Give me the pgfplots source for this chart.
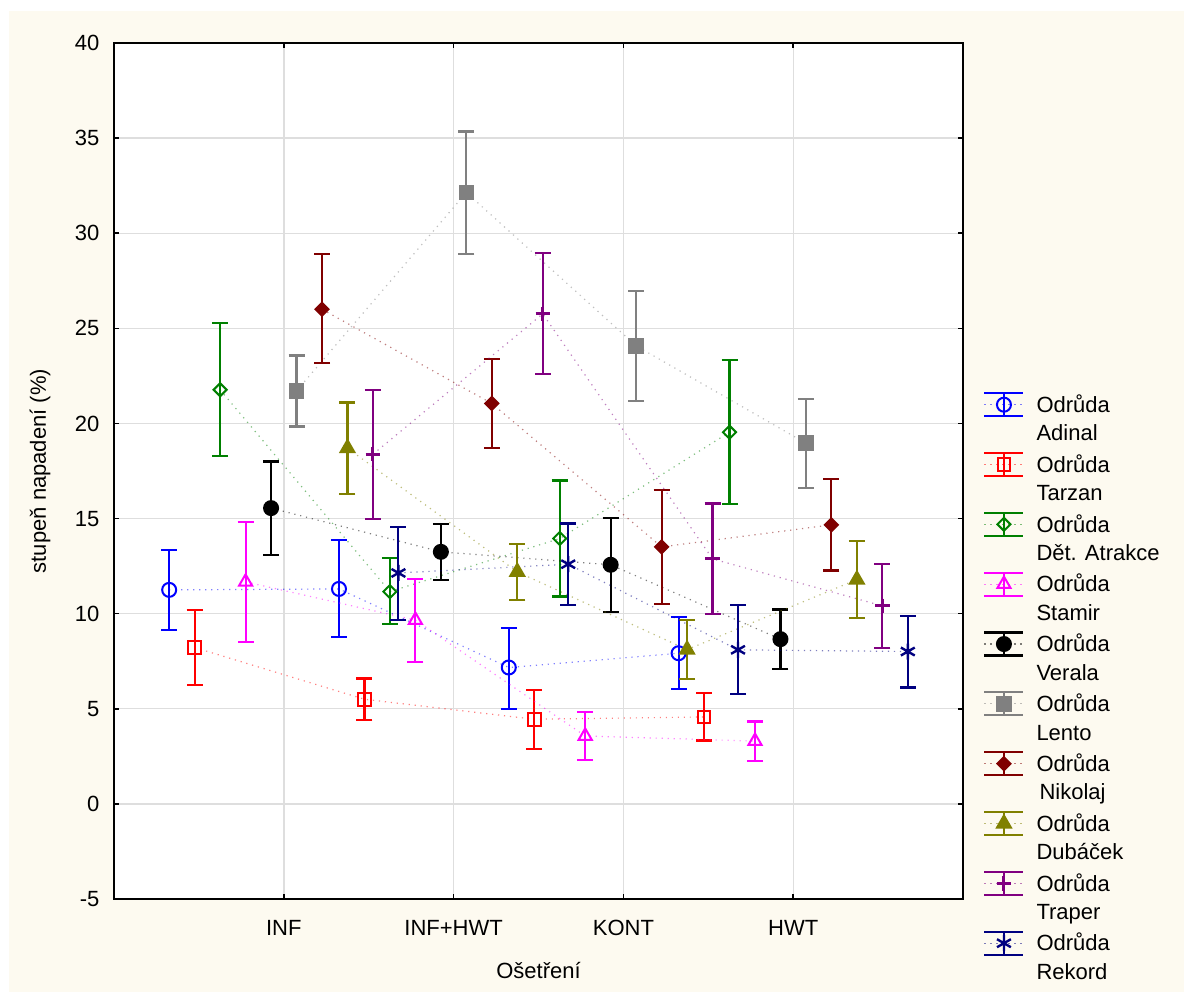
\documentclass[border=0pt]{standalone}
\usepackage{pgfplots}
\pgfplotsset{compat=1.18}
\usepackage{fontspec}
\setmainfont{Liberation Sans}

\definecolor{cream}{RGB}{253,250,240}
\definecolor{gridgray}{RGB}{222,222,222}
\definecolor{vblue}{RGB}{0,0,255}
\definecolor{vred}{RGB}{255,0,0}
\definecolor{vgreen}{RGB}{0,128,0}
\definecolor{vmagenta}{RGB}{255,0,255}
\definecolor{vgray}{RGB}{128,128,128}
\definecolor{vdarkred}{RGB}{128,0,0}
\definecolor{volive}{RGB}{128,128,0}
\definecolor{vpurple}{RGB}{128,0,128}
\definecolor{vnavy}{RGB}{0,0,128}

\pgfplotsset{
  odr/.style n args={3}{color=#1, mark=#2, line width=0.6pt,
    dash pattern=on 0.6pt off 2.4pt, draw opacity=0.5,
    mark options={solid, draw opacity=1, line width=1pt, #3},
    error bars/.cd, y dir=both, y explicit,
    error bar style={solid, line width=1.05pt, draw opacity=1, color=#1},
    error mark options={rotate=90, mark size=4pt, line width=1.05pt, solid, draw opacity=1, color=#1}},
}

\begin{document}
\begin{tikzpicture}
\useasboundingbox (0,0) rectangle (592pt,496pt);
\fill[white] (0,0) rectangle (592pt,496pt);
\fill[cream] (4.5pt,0) rectangle (592pt,490.5pt);
\begin{axis}[
  at={(57pt,46.5pt)}, anchor=south west,
  scale only axis, width=424.5pt, height=428pt,
  xmin=0, xmax=5, ymin=-5, ymax=40,
  xtick={1,2,3,4}, xticklabels={INF,INF+HWT,KONT,HWT},
  ytick={-5,0,...,40},
  grid=major, grid style={gridgray, line width=0.7pt},
  axis line style={line width=1pt},
  tick style={black, line width=0.8pt},
  major tick length=2.5pt,
  axis background/.style={fill=white},
  /pgf/number format/assume math mode=true,
  tick label style={font=\fontsize{11}{13}\selectfont},
  xticklabel style={anchor=center, yshift=-14.5pt},
  yticklabel style={xshift=-3.8pt},
  label style={font=\fontsize{11}{13}\selectfont},
  xlabel={Ošetření},
  xlabel style={at={(axis description cs:0.5,-0.083)}, anchor=center},
  ylabel={stupeň napadení (\%)},
  ylabel style={at={(axis description cs:-0.087,0.5)}, anchor=center, rotate=0},
  legend cell align=left,
  legend style={draw=none, fill=none, inner sep=0pt, at={(1,0.5915)}, anchor=north west,
    xshift=10pt, yshift=1.2pt, font=\fontsize{11}{14.25}\selectfont, cells={align=left},
    column sep=6pt, row sep=1.3pt, nodes={inner ysep=2pt, inner xsep=0pt}},
  legend image code/.code={
    \begin{scope}[yshift=7.3pt]
    \draw[#1, solid, draw opacity=1, line width=1.05pt] (0pt,-5.75pt)--(19.5pt,-5.75pt) (0pt,5.75pt)--(19.5pt,5.75pt) (9.75pt,-5.75pt)--(9.75pt,5.75pt);
    \draw[#1] (0pt,0pt)--(19.5pt,0pt);
    \draw[#1] plot[only marks] coordinates {(9.75pt,0pt)};
    \end{scope}
  },
]
% Adinal
\addplot[odr={vblue}{o}{mark size=3.5pt}] table[x=x, y=y, y error plus=ep, y error minus=em] {
x y ep em
0.325 11.25 2.10 2.10
1.325 11.30 2.55 2.52
2.325 7.17 2.10 2.18
3.325 7.92 1.89 1.87
};
\addlegendentry{Odrůda\\Adinal}
% Tarzan
\addplot[odr={vred}{square}{mark size=3.2pt}] table[x=x, y=y, y error plus=ep, y error minus=em] {
x y ep em
0.475 8.22 1.96 1.96
1.475 5.50 1.09 1.08
2.475 4.45 1.56 1.56
3.475 4.57 1.27 1.24
};
\addlegendentry{Odrůda\\Tarzan}
% Det. Atrakce
\addplot[odr={vgreen}{square}{mark size=2.3pt, rotate=45}] table[x=x, y=y, y error plus=ep, y error minus=em] {
x y ep em
0.625 21.77 3.50 3.49
1.625 11.16 1.76 1.71
2.625 13.95 3.05 3.05
3.625 19.54 3.79 3.78
};
\addlegendentry{Odrůda\\Dět. Atrakce}
% Stamir
\addplot[odr={vmagenta}{triangle}{mark size=3.8pt}] table[x=x, y=y, y error plus=ep, y error minus=em] {
x y ep em
0.775 11.67 3.16 3.17
1.775 9.66 2.17 2.18
2.775 3.57 1.27 1.27
3.775 3.30 1.03 1.04
};
\addlegendentry{Odrůda\\Stamir}
% Verala
\addplot[odr={black}{*}{mark size=3.5pt}] table[x=x, y=y, y error plus=ep, y error minus=em] {
x y ep em
0.925 15.55 2.45 2.45
1.925 13.25 1.47 1.46
2.925 12.57 2.47 2.46
3.925 8.66 1.56 1.58
};
\addlegendentry{Odrůda\\Verala}
% Lento
\addplot[odr={vgray}{square*}{mark size=3.4pt}] table[x=x, y=y, y error plus=ep, y error minus=em] {
x y ep em
1.075 21.71 1.86 1.87
2.075 32.14 3.21 3.21
3.075 24.08 2.89 2.91
4.075 18.96 2.33 2.35
};
\addlegendentry{Odrůda\\Lento}
% Nikolaj
\addplot[odr={vdarkred}{square*}{mark size=2.3pt, rotate=45}] table[x=x, y=y, y error plus=ep, y error minus=em] {
x y ep em
1.225 26.00 2.90 2.83
2.225 21.05 2.36 2.35
3.225 13.51 2.99 2.98
4.225 14.67 2.42 2.40
};
\addlegendentry{Odrůda\\\hspace{1.5pt}Nikolaj}
% Dubacek
\addplot[odr={volive}{triangle*}{mark size=4pt}] table[x=x, y=y, y error plus=ep, y error minus=em] {
x y ep em
1.375 18.70 2.40 2.40
2.375 12.20 1.47 1.47
3.375 8.11 1.56 1.56
4.375 11.79 2.02 2.03
};
\addlegendentry{Odrůda\\Dubáček}
% Traper
\addplot[odr={vpurple}{+}{mark size=3.6pt, line width=1.5pt}] table[x=x, y=y, y error plus=ep, y error minus=em] {
x y ep em
1.525 18.38 3.37 3.40
2.525 25.76 3.19 3.16
3.525 12.88 2.91 2.89
4.525 10.41 2.22 2.21
};
\addlegendentry{Odrůda\\Traper}
% Rekord
\addplot[odr={vnavy}{asterisk}{mark size=4pt, line width=1.2pt}] table[x=x, y=y, y error plus=ep, y error minus=em] {
x y ep em
1.675 12.14 2.41 2.47
2.675 12.60 2.14 2.14
3.675 8.10 2.36 2.33
4.675 8.01 1.89 1.89
};
\addlegendentry{Odrůda\\Rekord}
\end{axis}
\end{tikzpicture}
\end{document}
